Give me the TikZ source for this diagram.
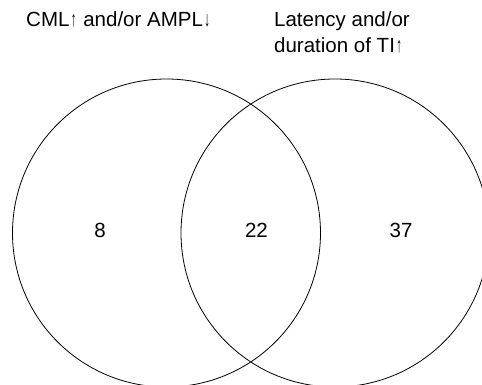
\documentclass[tikz,border=0pt]{standalone}
\usepackage{fontspec}
\usepackage{graphicx}
\setmainfont{Liberation Sans}
\newcommand{\arrup}{\kern1.5pt\scalebox{0.55}[1.05]{↑}\kern1pt}
\newcommand{\arrdn}{\kern1.5pt\scalebox{0.55}[1.05]{↓}\kern1pt}
\begin{document}
\begin{tikzpicture}[x=1pt,y=-1pt,
  lbl/.style={inner sep=0pt,font=\fontsize{20.5}{26}\selectfont},
  setc/.style={draw,line width=0.8pt,circle,minimum size=308pt,inner sep=0pt}]
\useasboundingbox (0,0) rectangle (482,385);
\clip (0,0) rectangle (482,385);
\node[setc] (A) at (166.5,233) {};
\node[setc] (B) at (335,233) {};
\node[lbl,anchor=base west] (la) at (26,27) {CML\arrup{} and/or AMPL\arrdn};
\node[lbl,anchor=base west,align=left] (lb) at (274,53) {Latency and/or\\duration of TI\arrup};
\node[lbl] (n1) at (100,230) {8};
\node[lbl] (n2) at (256.5,230) {22};
\node[lbl] (n3) at (401,230) {37};
\end{tikzpicture}
\end{document}
